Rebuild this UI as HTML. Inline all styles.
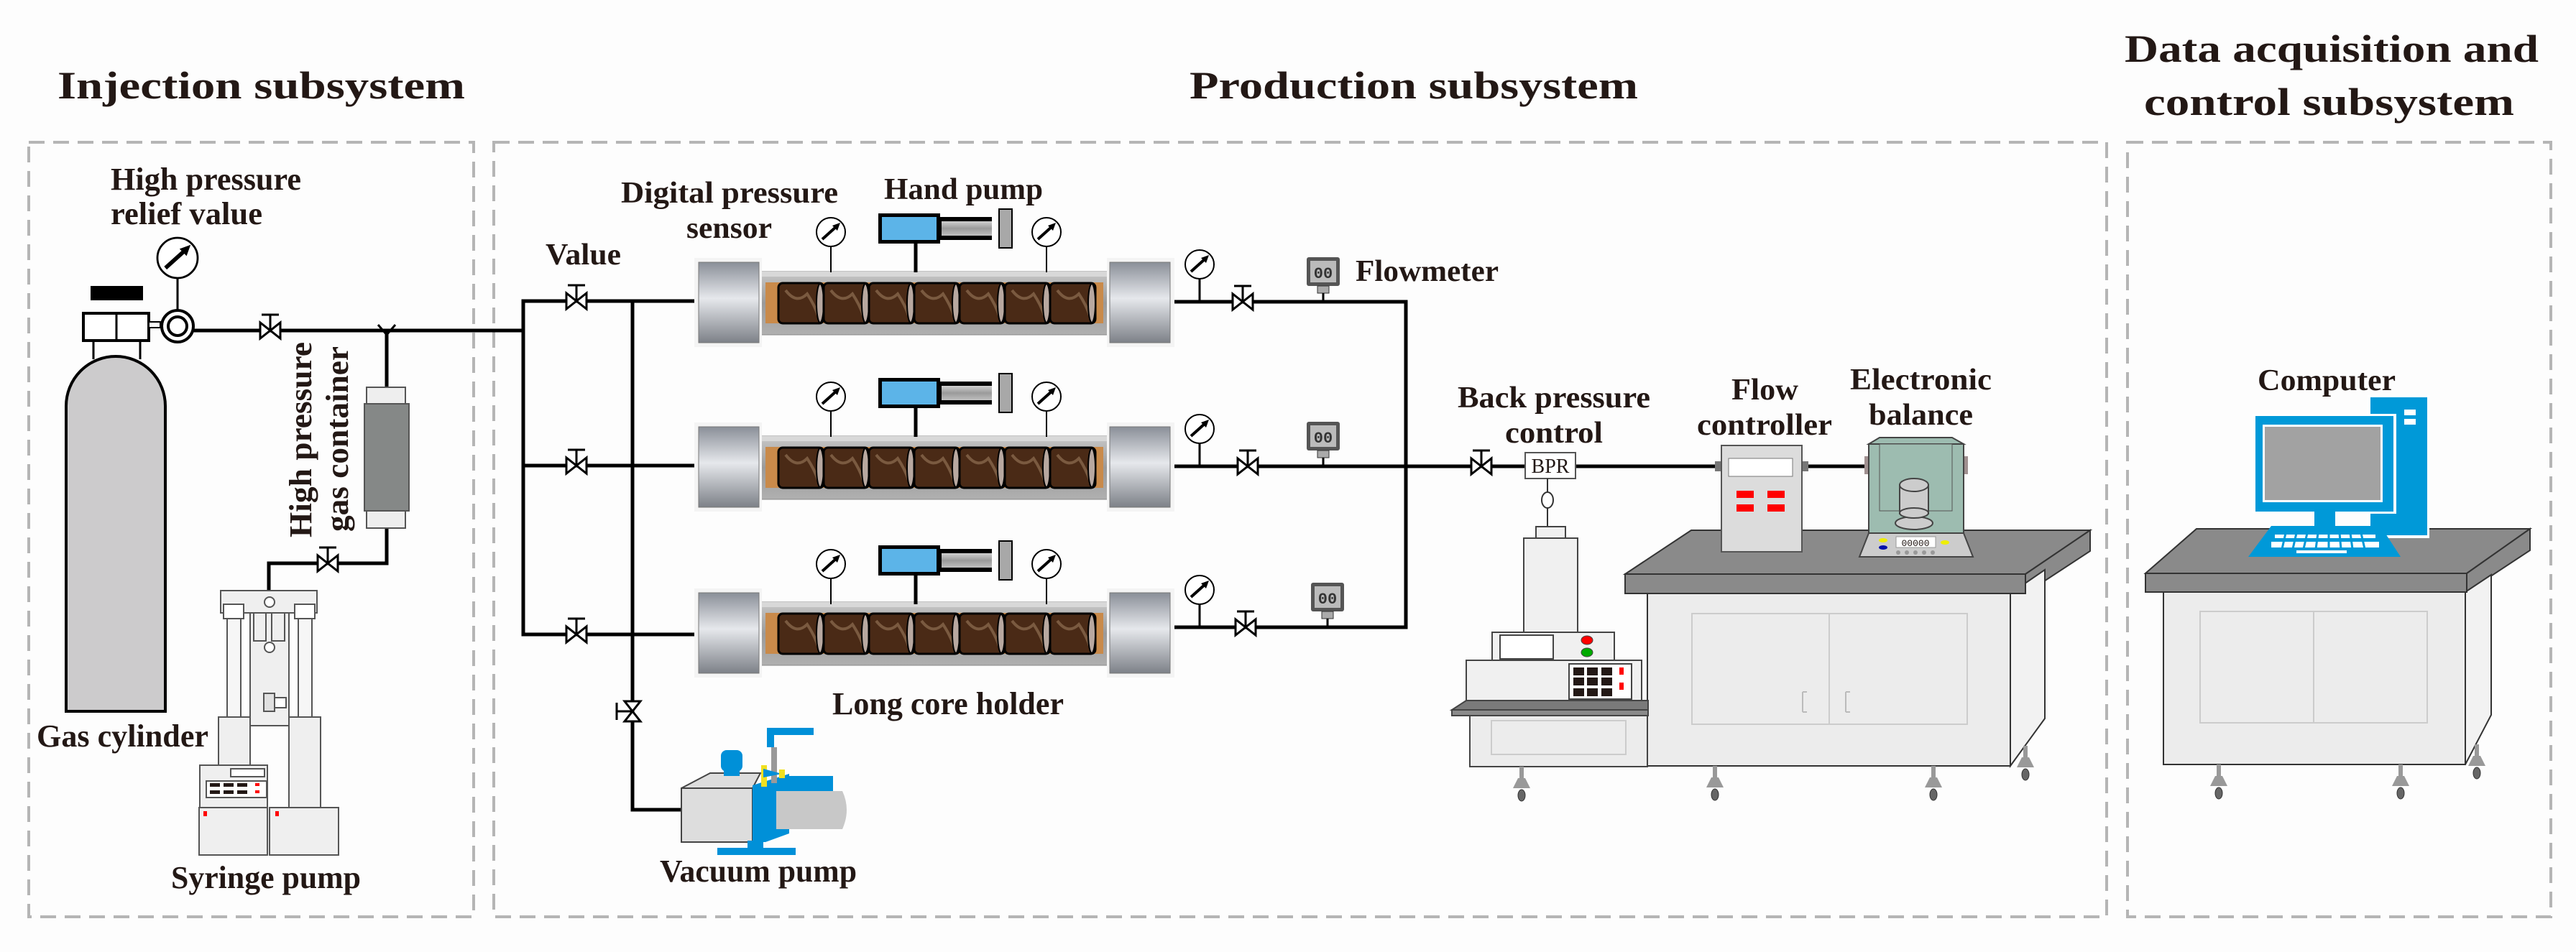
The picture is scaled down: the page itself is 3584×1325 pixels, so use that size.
<!DOCTYPE html>
<html><head><meta charset="utf-8"><style>
html,body{margin:0;padding:0;background:#fdfdfd;}
svg{display:block;}
text{font-family:"Liberation Serif",serif;font-weight:bold;fill:#231815;}
</style></head><body>
<svg width="3584" height="1325" viewBox="0 0 3584 1325" xmlns="http://www.w3.org/2000/svg">
<defs>
<linearGradient id="cap" x1="0" y1="0" x2="0" y2="1">
<stop offset="0" stop-color="#8a8f98"/><stop offset="0.45" stop-color="#e6e8ec"/><stop offset="1" stop-color="#7d8188"/></linearGradient>
<linearGradient id="tube" x1="0" y1="0" x2="0" y2="1">
<stop offset="0" stop-color="#c8c8c8"/><stop offset="0.5" stop-color="#9a9a9a"/><stop offset="1" stop-color="#b0b0b0"/></linearGradient>
<linearGradient id="rod" x1="0" y1="0" x2="0" y2="1">
<stop offset="0" stop-color="#d0d0d0"/><stop offset="0.5" stop-color="#9a9a9a"/><stop offset="1" stop-color="#c0c0c0"/></linearGradient>
<g id="valve"><polygon points="-14,-11 -14,11 14,-11 14,11" fill="#fff" stroke="#000" stroke-width="3"/><line x1="0" y1="0" x2="0" y2="-22" stroke="#000" stroke-width="3"/><line x1="-12" y1="-22" x2="12" y2="-22" stroke="#000" stroke-width="3"/></g>
<g id="gauge"><circle r="20" fill="#fff" stroke="#000" stroke-width="2"/><line x1="-12" y1="10" x2="8" y2="-8" stroke="#000" stroke-width="4"/><polygon points="13,-13 2,-9 9,-2" fill="#000"/></g>
<g id="core"><rect x="0" y="0" width="63" height="56" rx="6" fill="#4a2a16" stroke="#000" stroke-width="3"/><path d="M10,10 q15,20 30,5 q10,15 15,30" stroke="#7a5a40" stroke-width="4" fill="none"/><ellipse cx="58" cy="28" rx="5" ry="27" fill="#b8a8a0" stroke="#000" stroke-width="2"/></g>
<g id="holder">
<rect x="1056" y="-43" width="488" height="88" fill="url(#tube)" stroke="#888"/>
<rect x="1056" y="-43" width="488" height="7" fill="#d8d8d8"/>
<rect x="1065" y="-28" width="470" height="57" fill="#c98a4a"/>
<use href="#core" x="1083" y="-27"/><use href="#core" x="1146" y="-27"/><use href="#core" x="1209" y="-27"/><use href="#core" x="1272" y="-27"/><use href="#core" x="1335" y="-27"/><use href="#core" x="1398" y="-27"/><use href="#core" x="1461" y="-27"/>
<rect x="966" y="-62" width="94" height="124" fill="#f4f4f4"/>
<rect x="972" y="-56" width="84" height="112" fill="url(#cap)" stroke="#777"/>
<rect x="1540" y="-62" width="94" height="124" fill="#f4f4f4"/>
<rect x="1544" y="-56" width="84" height="112" fill="url(#cap)" stroke="#777"/>
</g>
<g id="hpump">
<line x1="1274" y1="337" x2="1274" y2="379" stroke="#000" stroke-width="5"/>
<rect x="1222" y="297" width="86" height="42" fill="#000"/>
<rect x="1227" y="302" width="76" height="32" fill="#5cb4e8"/>
<rect x="1306" y="302" width="74" height="32" fill="#000"/>
<rect x="1310" y="308" width="70" height="20" fill="url(#rod)"/>
<rect x="1390" y="291" width="18" height="54" fill="#a8a8a8" stroke="#000" stroke-width="2"/>
<line x1="1156" y1="343" x2="1156" y2="379" stroke="#000" stroke-width="2"/>
<use href="#gauge" x="1156" y="323"/>
<line x1="1456" y1="343" x2="1456" y2="379" stroke="#000" stroke-width="2"/>
<use href="#gauge" x="1456" y="323"/>
</g>
<g id="flowm"><rect x="-23" y="-62" width="46" height="40" rx="3" fill="#555"/><rect x="-18" y="-57" width="36" height="30" fill="#bbb"/><text x="0" y="-33" font-size="22" text-anchor="middle" style="font-family:'Liberation Mono',monospace;fill:#333">00</text><rect x="-8" y="-22" width="16" height="10" fill="#aaa" stroke="#333"/><line x1="0" y1="-12" x2="0" y2="0" stroke="#000" stroke-width="3"/></g>
<g id="leg"><rect x="-3" y="0" width="6" height="18" fill="#999"/><polygon points="-5,16 5,16 12,30 -12,30" fill="#999"/><ellipse cx="0" cy="40" rx="5" ry="8" fill="#666" stroke="#333"/></g>
</defs>

<!-- Dashed boxes -->
<g fill="none" stroke="#b5b5b5" stroke-width="4" stroke-dasharray="22,12">
<rect x="40" y="198" width="619" height="1078"/>
<rect x="687" y="198" width="2244" height="1078"/>
<rect x="2960" y="198" width="589" height="1078"/>
</g>

<!-- Titles -->
<text x="80" y="137" font-size="54" textLength="567" lengthAdjust="spacingAndGlyphs">Injection subsystem</text>
<text x="1655" y="137" font-size="54" textLength="624" lengthAdjust="spacingAndGlyphs">Production subsystem</text>
<text x="2956" y="86" font-size="54" textLength="576" lengthAdjust="spacingAndGlyphs">Data acquisition and</text>
<text x="2983" y="160" font-size="54" textLength="515" lengthAdjust="spacingAndGlyphs">control subsystem</text>

<!-- Injection: pipes -->
<g stroke="#000" stroke-width="5" fill="none">
<line x1="268" y1="460" x2="728" y2="460"/>
<line x1="538" y1="460" x2="538" y2="539"/>
<polyline points="538,735 538,784 374,784 374,821"/>
<line x1="247" y1="380" x2="247" y2="432" stroke-width="3"/>
</g>
<path d="M526,452 L538,466 L550,452" stroke="#000" stroke-width="3" fill="none"/>
<use href="#valve" x="376" y="460"/>
<use href="#valve" x="456" y="784"/>
<!-- gauge on cylinder -->
<g transform="translate(247,359) scale(1.4)"><use href="#gauge"/></g>
<!-- cylinder -->
<rect x="126" y="398" width="73" height="20" fill="#000"/>
<rect x="116" y="436" width="91" height="38" fill="#fff" stroke="#000" stroke-width="4"/>
<line x1="162" y1="436" x2="162" y2="474" stroke="#000" stroke-width="3"/>
<line x1="130" y1="474" x2="130" y2="500" stroke="#000" stroke-width="3"/>
<line x1="195" y1="474" x2="195" y2="500" stroke="#000" stroke-width="3"/>
<path d="M92,990 L92,565 A69,69 0 0 1 230,565 L230,990 Z" fill="#cccbcc" stroke="#000" stroke-width="4"/>
<rect x="207" y="448" width="16" height="8" fill="#fff" stroke="#000" stroke-width="2"/>
<circle cx="247" cy="454" r="22" fill="#fff" stroke="#000" stroke-width="4"/>
<circle cx="247" cy="454" r="13" fill="#fff" stroke="#000" stroke-width="4"/>
<!-- gas container -->
<rect x="510" y="539" width="54" height="23" fill="#eee" stroke="#555" stroke-width="2"/>
<rect x="507" y="562" width="62" height="149" fill="#858887" stroke="#555" stroke-width="2"/>
<rect x="510" y="711" width="54" height="24" fill="#eee" stroke="#555" stroke-width="2"/>
<!-- syringe pump -->
<g stroke="#555" stroke-width="2" fill="#efefef">
<rect x="307" y="822" width="134" height="31"/>
<rect x="316" y="861" width="19" height="137" fill="#f6f6f6"/>
<rect x="415" y="861" width="19" height="137" fill="#f6f6f6"/>
<rect x="311" y="841" width="28" height="20" fill="#fff"/>
<rect x="410" y="841" width="28" height="20" fill="#fff"/>
<rect x="348" y="853" width="54" height="157"/>
<rect x="353" y="853" width="17" height="39"/>
<rect x="378" y="853" width="18" height="39"/>
<circle cx="375" cy="838" r="7" fill="#fff"/>
<circle cx="375" cy="901" r="7" fill="#fff"/>
<rect x="367" y="965" width="15" height="25" fill="#e0e0e0"/>
<rect x="382" y="971" width="16" height="14" fill="#fff"/>
<rect x="304" y="998" width="44" height="67"/>
<rect x="402" y="998" width="44" height="126"/>
<rect x="278" y="1065" width="94" height="59"/>
<rect x="321" y="1070" width="47" height="11" fill="#fff"/>
<rect x="287" y="1087" width="84" height="23" fill="#fff"/>
<rect x="277" y="1124" width="95" height="66"/>
<rect x="375" y="1124" width="96" height="66"/>
</g>
<g fill="#231815"><rect x="292" y="1090" width="14" height="5"/><rect x="311" y="1090" width="14" height="5"/><rect x="330" y="1090" width="14" height="5"/><rect x="292" y="1100" width="14" height="5"/><rect x="311" y="1100" width="14" height="5"/><rect x="330" y="1100" width="14" height="5"/></g>
<g fill="#f00"><rect x="355" y="1090" width="6" height="4"/><rect x="355" y="1100" width="6" height="4"/><rect x="283" y="1129" width="5" height="7"/><rect x="383" y="1129" width="5" height="7"/></g>

<!-- Injection labels -->
<text x="154" y="264" font-size="44" textLength="265" lengthAdjust="spacingAndGlyphs">High pressure</text>
<text x="154" y="312" font-size="44" textLength="211" lengthAdjust="spacingAndGlyphs">relief value</text>
<text x="51" y="1039" font-size="44" textLength="239" lengthAdjust="spacingAndGlyphs">Gas cylinder</text>
<text x="238" y="1236" font-size="44" textLength="264" lengthAdjust="spacingAndGlyphs">Syringe pump</text>
<text transform="translate(433,748) rotate(-90)" font-size="44" textLength="272" lengthAdjust="spacingAndGlyphs">High pressure</text>
<text transform="translate(484,740) rotate(-90)" font-size="44" textLength="258" lengthAdjust="spacingAndGlyphs">gas container</text>

<!-- Production manifold -->
<g stroke="#000" stroke-width="5" fill="none">
<polyline points="972,419 728,419 728,883 972,883"/>
<line x1="728" y1="648" x2="972" y2="648"/>
<polyline points="880,419 880,1127 950,1127"/>
<polyline points="1630,420 1956,420 1956,873 1630,873"/>
<line x1="1630" y1="649" x2="2390" y2="649"/>
<line x1="2512" y1="649" x2="2594" y2="649"/>
</g>
<use href="#valve" x="802" y="419"/>
<use href="#valve" x="802" y="648"/>
<use href="#valve" x="802" y="883"/>
<g transform="translate(880,990) rotate(90)"><g transform="scale(1,-1)"><use href="#valve"/></g></g>

<use href="#holder" x="0" y="421"/>
<use href="#holder" x="0" y="650"/>
<use href="#holder" x="0" y="881"/>
<use href="#hpump" x="0" y="0"/>
<use href="#hpump" x="0" y="229"/>
<use href="#hpump" x="0" y="462"/>

<!-- outlet gauges/valves/flowmeters -->
<g stroke="#000" stroke-width="3"><line x1="1669" y1="388" x2="1669" y2="420"/><line x1="1669" y1="617" x2="1669" y2="649"/><line x1="1669" y1="841" x2="1669" y2="873"/></g>
<use href="#gauge" x="1669" y="368"/><use href="#gauge" x="1669" y="597"/><use href="#gauge" x="1669" y="821"/>
<use href="#valve" x="1729" y="420"/><use href="#valve" x="1736" y="649"/><use href="#valve" x="1733" y="873"/>
<use href="#flowm" x="1841" y="420"/><use href="#flowm" x="1841" y="649"/><use href="#flowm" x="1847" y="873"/>

<!-- Vacuum pump -->
<polygon points="948,1097 988,1076 1058,1076 1047,1097" fill="#ddd" stroke="#444" stroke-width="2"/>
<rect x="948" y="1097" width="99" height="75" fill="#ddd" stroke="#444" stroke-width="2"/>
<rect x="1003" y="1044" width="30" height="30" rx="8" fill="#0090d8"/>
<rect x="1007" y="1070" width="22" height="10" fill="#0090d8"/>
<polygon points="1047,1093 1098,1077 1098,1160 1065,1172 1047,1172" fill="#0090d8"/>
<rect x="1098" y="1080" width="61" height="25" fill="#0090d8"/>
<path d="M1080,1101 L1172,1101 Q1184,1127 1172,1154 L1080,1154 Z" fill="#c8c8c8"/>
<rect x="998" y="1180" width="109" height="10" fill="#0090d8"/>
<rect x="1040" y="1170" width="22" height="12" fill="#0090d8"/>
<path d="M1072,1040 L1072,1018 L1132,1018" stroke="#0090d8" stroke-width="10" fill="none"/>
<rect x="1073" y="1040" width="8" height="50" fill="#999"/>
<rect x="1059" y="1065" width="8" height="30" fill="#f0e020"/>
<polygon points="1062,1070 1088,1077 1062,1082" fill="#0090d8"/>
<rect x="1084" y="1071" width="8" height="12" fill="#f0e020"/>

<!-- Production labels -->
<text x="759" y="368" font-size="42" textLength="105" lengthAdjust="spacingAndGlyphs">Value</text>
<text x="864" y="282" font-size="42" textLength="302" lengthAdjust="spacingAndGlyphs">Digital pressure</text>
<text x="955" y="331" font-size="42" textLength="119" lengthAdjust="spacingAndGlyphs">sensor</text>
<text x="1230" y="277" font-size="42" textLength="221" lengthAdjust="spacingAndGlyphs">Hand pump</text>
<text x="1886" y="391" font-size="42" textLength="199" lengthAdjust="spacingAndGlyphs">Flowmeter</text>
<text x="1158" y="994" font-size="44" textLength="322" lengthAdjust="spacingAndGlyphs">Long core holder</text>
<text x="918" y="1227" font-size="44" textLength="274" lengthAdjust="spacingAndGlyphs">Vacuum pump</text>
<text x="2028" y="567" font-size="42" textLength="268" lengthAdjust="spacingAndGlyphs">Back pressure</text>
<text x="2094" y="616" font-size="42" textLength="136" lengthAdjust="spacingAndGlyphs">control</text>
<text x="2409" y="556" font-size="42" textLength="93" lengthAdjust="spacingAndGlyphs">Flow</text>
<text x="2361" y="605" font-size="42" textLength="188" lengthAdjust="spacingAndGlyphs">controller</text>
<text x="2574" y="542" font-size="42" textLength="197" lengthAdjust="spacingAndGlyphs">Electronic</text>
<text x="2600" y="591" font-size="42" textLength="145" lengthAdjust="spacingAndGlyphs">balance</text>
<text x="3141" y="543" font-size="42" textLength="192" lengthAdjust="spacingAndGlyphs">Computer</text>

<!-- Tables -->
<g id="t1">
<polygon points="2353,738 2908,738 2818,799 2261,799" fill="#8a8a8a" stroke="#333" stroke-width="2"/>
<polygon points="2818,799 2908,738 2908,767 2818,826" fill="#8a8a8a" stroke="#333" stroke-width="2"/>
<polygon points="2797,826 2845,793 2845,1000 2797,1066" fill="#f2f2f2" stroke="#333" stroke-width="2"/>
<rect x="2292" y="826" width="505" height="240" fill="#ececec" stroke="#333" stroke-width="2"/>
<rect x="2261" y="799" width="557" height="27" fill="#8a8a8a" stroke="#333" stroke-width="2"/>
<rect x="2354" y="854" width="383" height="154" fill="none" stroke="#ccc" stroke-width="2"/>
<line x1="2545" y1="854" x2="2545" y2="1008" stroke="#ccc" stroke-width="2"/>
<path d="M2508,991 v-28 M2508,963 h6 M2508,991 h6 M2568,991 v-28 M2568,963 h6 M2568,991 h6" stroke="#bbb" stroke-width="2"/>
</g>
<use href="#leg" x="2386" y="1066"/><use href="#leg" x="2690" y="1066"/><use href="#leg" x="2818" y="1038"/>

<polygon points="3056,736 3520,736 3432,798 2985,798" fill="#8a8a8a" stroke="#333" stroke-width="2"/>
<polygon points="3432,798 3520,736 3520,766 3432,824" fill="#8a8a8a" stroke="#333" stroke-width="2"/>
<polygon points="3430,824 3466,800 3466,995 3430,1064" fill="#f2f2f2" stroke="#333" stroke-width="2"/>
<rect x="3010" y="824" width="420" height="240" fill="#ececec" stroke="#333" stroke-width="2"/>
<rect x="2985" y="798" width="447" height="26" fill="#8a8a8a" stroke="#333" stroke-width="2"/>
<rect x="3061" y="851" width="316" height="155" fill="none" stroke="#ccc" stroke-width="2"/>
<line x1="3219" y1="851" x2="3219" y2="1006" stroke="#ccc" stroke-width="2"/>
<use href="#leg" x="3087" y="1064"/><use href="#leg" x="3340" y="1064"/><use href="#leg" x="3446" y="1036"/>

<!-- BPR apparatus -->
<use href="#valve" x="2061" y="649"/>
<rect x="2122" y="630" width="70" height="36" fill="#fff" stroke="#555" stroke-width="2"/>
<text x="2157" y="658" font-size="28" text-anchor="middle" style="font-weight:normal">BPR</text>
<line x1="2153" y1="666" x2="2153" y2="733" stroke="#333" stroke-width="2"/>
<ellipse cx="2153" cy="696" rx="8" ry="11" fill="#fff" stroke="#333" stroke-width="2"/>
<g stroke="#444" stroke-width="2" fill="#f0f0f0">
<rect x="2137" y="733" width="41" height="16"/>
<rect x="2120" y="749" width="75" height="131"/>
<rect x="2076" y="880" width="170" height="39"/>
<rect x="2087" y="884" width="74" height="33" fill="#fff"/>
<rect x="2040" y="919" width="244" height="58"/>
<rect x="2183" y="924" width="87" height="49" fill="#fff"/>
<polygon points="2040,975 2293,975 2293,988 2020,988" fill="#7a7a7a"/>
<rect x="2020" y="988" width="273" height="8" fill="#8a8a8a"/>
<rect x="2045" y="996" width="247" height="71" fill="#ececec"/>
<rect x="2075" y="1003" width="187" height="47" fill="none" stroke="#ccc"/>
</g>
<ellipse cx="2208" cy="891" rx="8" ry="6" fill="#f00" stroke="#444"/>
<ellipse cx="2208" cy="908" rx="8" ry="6" fill="#0a0" stroke="#444"/>
<g fill="#231815"><rect x="2189" y="929" width="15" height="11"/><rect x="2208" y="929" width="15" height="11"/><rect x="2228" y="929" width="15" height="11"/><rect x="2189" y="943" width="15" height="11"/><rect x="2208" y="943" width="15" height="11"/><rect x="2228" y="943" width="15" height="11"/><rect x="2189" y="958" width="15" height="11"/><rect x="2208" y="958" width="15" height="11"/><rect x="2228" y="958" width="15" height="11"/></g>
<rect x="2253" y="929" width="6" height="10" fill="#f00"/><rect x="2253" y="950" width="6" height="10" fill="#f00"/>
<use href="#leg" x="2117" y="1067"/>

<!-- Flow controller -->
<rect x="2386" y="642" width="10" height="14" fill="#777"/><rect x="2506" y="642" width="10" height="14" fill="#777"/>
<rect x="2395" y="620" width="112" height="148" fill="#dcdcdc" stroke="#555" stroke-width="2"/>
<rect x="2405" y="638" width="89" height="25" fill="#fff" stroke="#777"/>
<g fill="#f00"><rect x="2416" y="683" width="24" height="10"/><rect x="2459" y="683" width="24" height="10"/><rect x="2416" y="702" width="24" height="10"/><rect x="2459" y="702" width="24" height="10"/></g>

<!-- Balance -->
<rect x="2594" y="635" width="7" height="25" fill="#a09090"/><rect x="2731" y="635" width="7" height="25" fill="#a09090"/>
<polygon points="2600,618 2615,609 2716,609 2732,618" fill="#9dbcb0" stroke="#444" stroke-width="2"/>
<rect x="2600" y="618" width="132" height="124" fill="#9dbcb0" stroke="#444" stroke-width="2"/>
<polygon points="2615,618 2716,618 2716,711 2615,711" fill="#9dbcb0" stroke="#555" stroke-width="1"/>
<ellipse cx="2663" cy="728" rx="26" ry="9" fill="#ccc" stroke="#444" stroke-width="2"/>
<rect x="2643" y="675" width="40" height="40" fill="#ccc" stroke="#444" stroke-width="2"/>
<ellipse cx="2663" cy="675" rx="20" ry="9" fill="#ccc" stroke="#444" stroke-width="2"/>
<ellipse cx="2663" cy="714" rx="20" ry="7" fill="#ccc" stroke="#444" stroke-width="2"/>
<polygon points="2600,742 2732,742 2745,775 2587,775" fill="#ccc" stroke="#444" stroke-width="2"/>
<rect x="2638" y="747" width="55" height="15" fill="#fff" stroke="#999"/>
<text x="2665" y="760" font-size="13" text-anchor="middle" style="font-family:'Liberation Mono',monospace;font-weight:normal">00000</text>
<ellipse cx="2620" cy="752" rx="6" ry="3" fill="#ee0"/><ellipse cx="2620" cy="762" rx="6" ry="3" fill="#01a"/><ellipse cx="2706" cy="755" rx="6" ry="3" fill="#ee0"/>
<g fill="#999"><circle cx="2641" cy="769" r="3"/><circle cx="2653" cy="769" r="3"/><circle cx="2665" cy="769" r="3"/><circle cx="2677" cy="769" r="3"/><circle cx="2689" cy="769" r="3"/></g>

<!-- Computer -->
<rect x="3294" y="550" width="86" height="199" fill="#fff"/>
<rect x="3298" y="553" width="79" height="192" fill="#0099d8"/>
<rect x="3345" y="570" width="16" height="8" fill="#fff"/><rect x="3345" y="583" width="16" height="8" fill="#fff"/>
<rect x="3134" y="576" width="200" height="139" fill="#fff"/>
<rect x="3138" y="579" width="192" height="133" fill="#0099d8"/>
<rect x="3148" y="591" width="167" height="108" fill="#fff"/>
<rect x="3151" y="594" width="161" height="102" fill="#a2a2a2"/>
<rect x="3220" y="712" width="29" height="20" fill="#0099d8"/>
<polygon points="3160,732 3312,732 3340,775 3128,775" fill="#0099d8"/>
<g fill="#fff"><rect x="3165" y="744" width="140" height="5"/><rect x="3160" y="754" width="150" height="8"/><rect x="3195" y="766" width="70" height="4"/></g>
<g stroke="#0099d8" stroke-width="3"><line x1="3180" y1="742" x2="3175" y2="764"/><line x1="3195" y1="742" x2="3190" y2="764"/><line x1="3210" y1="742" x2="3205" y2="764"/><line x1="3225" y1="742" x2="3222" y2="764"/><line x1="3240" y1="742" x2="3240" y2="764"/><line x1="3255" y1="742" x2="3257" y2="764"/><line x1="3270" y1="742" x2="3273" y2="764"/><line x1="3285" y1="742" x2="3290" y2="764"/></g>
</svg>
</body></html>
